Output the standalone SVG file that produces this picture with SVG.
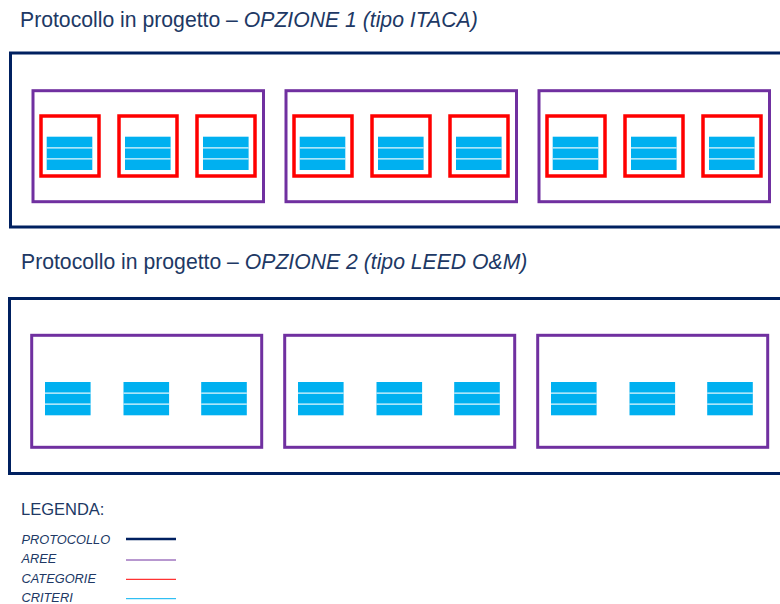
<svg xmlns="http://www.w3.org/2000/svg" xmlns:xlink="http://www.w3.org/1999/xlink" width="780" height="604" viewBox="0 0 780 604">
<style>
.title{font-family:"Liberation Sans",Arial,sans-serif;font-size:21.2px;fill:#203864}
.it{font-style:italic}
.leg{font-family:"Liberation Sans",Arial,sans-serif;font-size:16.5px;fill:#203864}
.legi{font-family:"Liberation Sans",Arial,sans-serif;font-size:12.8px;font-style:italic;fill:#203864}
.proto{fill:none;stroke:#002060;stroke-width:3}
.area{fill:none;stroke:#7030A0;stroke-width:3}
.cat{fill:none;stroke:#FF0000;stroke-width:3.5}
</style>
<defs>
<g id="crit">
<rect x="0" y="0" width="45.6" height="33.3" fill="#00B0F0"/>
<line x1="0" y1="11.1" x2="45.6" y2="11.1" stroke="#e6f7fd" stroke-width="1.2"/>
<line x1="0" y1="22.2" x2="45.6" y2="22.2" stroke="#e6f7fd" stroke-width="1.2"/>
</g>
</defs>
<rect width="780" height="604" fill="#ffffff"/>

<text class="title" x="20" y="27">Protocollo in progetto – <tspan class="it">OPZIONE 1 (tipo ITACA)</tspan></text>
<text class="title" x="21" y="269">Protocollo in progetto – <tspan class="it">OPZIONE 2 (tipo LEED O&amp;M)</tspan></text>

<g id="protocollo1">
<rect class="proto" x="10.5" y="53" width="790" height="174"/>
<g id="o1-area1">
<rect class="area" x="33" y="90.7" width="230.5" height="111"/>
<g id="o1-a1-cat1"><rect class="cat" x="41" y="116" width="58" height="60"/><use xlink:href="#crit" x="46.7" y="136.7"/></g>
<g id="o1-a1-cat2"><rect class="cat" x="119" y="116" width="58" height="60"/><use xlink:href="#crit" x="125" y="136.7"/></g>
<g id="o1-a1-cat3"><rect class="cat" x="197" y="116" width="58" height="60"/><use xlink:href="#crit" x="203" y="136.7"/></g>
</g>
<g id="o1-area2">
<rect class="area" x="286" y="90.7" width="230.5" height="111"/>
<g id="o1-a2-cat1"><rect class="cat" x="294" y="116" width="58" height="60"/><use xlink:href="#crit" x="299.7" y="136.7"/></g>
<g id="o1-a2-cat2"><rect class="cat" x="372" y="116" width="58" height="60"/><use xlink:href="#crit" x="378" y="136.7"/></g>
<g id="o1-a2-cat3"><rect class="cat" x="450" y="116" width="58" height="60"/><use xlink:href="#crit" x="456" y="136.7"/></g>
</g>
<g id="o1-area3">
<rect class="area" x="539" y="90.7" width="230.5" height="111"/>
<g id="o1-a3-cat1"><rect class="cat" x="547" y="116" width="58" height="60"/><use xlink:href="#crit" x="552.7" y="136.7"/></g>
<g id="o1-a3-cat2"><rect class="cat" x="625" y="116" width="58" height="60"/><use xlink:href="#crit" x="631" y="136.7"/></g>
<g id="o1-a3-cat3"><rect class="cat" x="703" y="116" width="58" height="60"/><use xlink:href="#crit" x="709" y="136.7"/></g>
</g>
</g>

<g id="protocollo2">
<rect class="proto" x="9.5" y="298.5" width="790" height="175"/>
<g id="o2-area1">
<rect class="area" x="31.7" y="335.3" width="230" height="112"/>
<use xlink:href="#crit" x="45" y="382"/>
<use xlink:href="#crit" x="123.5" y="382"/>
<use xlink:href="#crit" x="201.2" y="382"/>
</g>
<g id="o2-area2">
<rect class="area" x="284.7" y="335.3" width="230" height="112"/>
<use xlink:href="#crit" x="298" y="382"/>
<use xlink:href="#crit" x="376.5" y="382"/>
<use xlink:href="#crit" x="454.2" y="382"/>
</g>
<g id="o2-area3">
<rect class="area" x="537.7" y="335.3" width="230" height="112"/>
<use xlink:href="#crit" x="551" y="382"/>
<use xlink:href="#crit" x="629.5" y="382"/>
<use xlink:href="#crit" x="707.2" y="382"/>
</g>
</g>

<g id="legenda">
<text class="leg" x="21" y="515">LEGENDA:</text>
<text class="legi" x="21.5" y="543.5">PROTOCOLLO</text>
<text class="legi" x="21.5" y="563.3">AREE</text>
<text class="legi" x="21.5" y="582.8">CATEGORIE</text>
<text class="legi" x="21.5" y="601.5">CRITERI</text>
<line x1="126" y1="539" x2="176" y2="539" stroke="#002060" stroke-width="2.5"/>
<line x1="126" y1="560" x2="176" y2="560" stroke="#7030A0" stroke-width="1"/>
<line x1="126" y1="579.3" x2="176" y2="579.3" stroke="#FF0000" stroke-width="1"/>
<line x1="126" y1="598.7" x2="176" y2="598.7" stroke="#00B0F0" stroke-width="1"/>
</g>
</svg>
